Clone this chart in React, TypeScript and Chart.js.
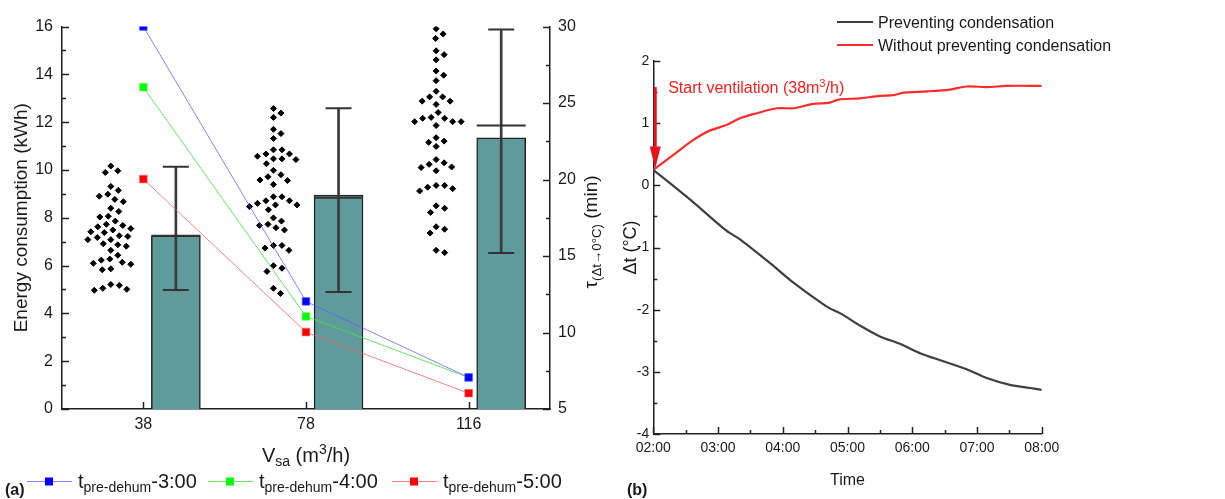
import React, { useEffect, useRef } from 'react';
import { Chart, registerables } from 'chart.js';

Chart.register(...registerables);

const FONT = '"Liberation Sans", Arial, sans-serif';
const INK = '#1a1a1a';

// ---------- Panel (a) data ----------
const flowRates = ['38', '78', '116'];
const energyPre3 = [16.0, 4.5, 1.32];
const energyPre4 = [13.46, 3.87, 1.32];
const energyPre5 = [9.62, 3.22, 0.66];
const tauBar = [16.32, 18.98, 22.73];
const tauLow = [12.78, 12.65, 15.2];
const tauHigh = [20.84, 24.66, 29.8];
const tauMid = [16.32, 18.8, 23.53];
const tau38 = [20.88, 20.57, 20.46, 19.55, 19.29, 19.04, 18.91, 18.7, 18.55, 18.12, 17.91, 17.55, 17.6, 17.28, 17.0, 17.07, 16.91, 16.79, 16.53, 16.58, 16.7, 16.32, 16.07, 16.21, 16.07, 16.28, 15.8, 15.73, 15.64, 15.37, 15.05, 14.8, 14.52, 14.73, 14.59, 14.46, 14.16, 14.1, 13.14, 12.82, 12.89, 13.08, 12.76];
const tau78 = [24.64, 24.34, 24.06, 23.28, 23.0, 22.68, 21.94, 21.67, 21.35, 21.35, 21.67, 21.94, 21.3, 21.52, 21.03, 20.31, 20.6, 20.18, 19.97, 19.68, 19.93, 18.87, 18.61, 18.34, 18.34, 18.61, 18.87, 18.23, 18.44, 18.02, 17.28, 17.49, 17.07, 17.0, 16.7, 16.85, 15.69, 15.52, 15.37, 15.69, 14.37, 13.99, 14.2, 12.89, 12.55];
const tau116 = [29.85, 29.51, 29.22, 28.41, 28.16, 27.82, 27.09, 26.82, 26.46, 25.76, 25.4, 25.12, 25.4, 25.12, 24.91, 24.38, 24.0, 23.78, 23.53, 23.78, 24.06, 23.78, 24.0, 22.73, 22.51, 22.16, 22.43, 20.99, 21.09, 21.3, 20.57, 20.82, 20.78, 19.61, 19.25, 19.5, 19.4, 19.61, 18.12, 17.85, 18.28, 16.75, 16.5, 16.91, 15.37, 15.22];
const tauSamples = [tau38, tau78, tau116];
const seriesNames = ['-3:00', '-4:00', '-5:00'];

// ---------- Panel (b) data ----------
const hoursPrevent = [2.0, 2.57, 3.13, 3.34, 3.86, 4.17, 4.68, 4.89, 5.2, 5.5, 5.81, 6.12, 6.48, 6.84, 7.15, 7.51, 7.82, 8.0];
const deltaPrevent = [0.25, -0.23, -0.73, -0.87, -1.3, -1.57, -1.95, -2.06, -2.26, -2.43, -2.55, -2.7, -2.83, -2.96, -3.1, -3.21, -3.26, -3.29];
const hoursWithout = [2.0, 2.31, 2.62, 2.87, 3.13, 3.34, 3.6, 3.91, 4.17, 4.47, 4.73, 4.86, 5.2, 5.5, 5.71, 5.86, 6.22, 6.58, 6.84, 7.15, 7.46, 8.0];
const deltaWithout = [0.25, 0.49, 0.73, 0.88, 0.97, 1.08, 1.16, 1.24, 1.24, 1.31, 1.33, 1.38, 1.4, 1.44, 1.45, 1.49, 1.51, 1.54, 1.59, 1.58, 1.6, 1.6];
const arrowHour = 2.03;
const arrowFrom = 1.58;
const arrowTo = 0.27;
const annotationHour = 2.23;
const annotationValue = 1.58;
const legendB = ['Preventing condensation', 'Without preventing condensation'];

type Seg = { t: string; k?: 'sub' | 'sup' };

function drawRich(
  ctx: CanvasRenderingContext2D,
  segs: Seg[],
  x: number,
  y: number,
  size: number,
  align: 'left' | 'center',
  color: string,
  rotate = false,
  bold = false,
  subScale = 0.7
) {
  ctx.save();
  ctx.translate(x, y);
  if (rotate) ctx.rotate(-Math.PI / 2);
  const fontFor = (k?: string) => `${bold ? 'bold ' : ''}${k ? size * subScale : size}px ${FONT}`;
  let w = 0;
  for (const s of segs) {
    ctx.font = fontFor(s.k);
    w += ctx.measureText(s.t).width;
  }
  let cx = align === 'center' ? -w / 2 : 0;
  ctx.fillStyle = color;
  ctx.textAlign = 'left';
  ctx.textBaseline = 'alphabetic';
  for (const s of segs) {
    ctx.font = fontFor(s.k);
    const dy = s.k === 'sub' ? size * 0.22 : s.k === 'sup' ? -size * 0.4 : 0;
    ctx.fillText(s.t, cx, dy);
    cx += ctx.measureText(s.t).width;
  }
  ctx.restore();
}

function swarmOffsets(values: number[], pxPerX: number, pxPerY: number, gap: number) {
  const placed: { x: number; y: number }[] = [];
  const out = new Array(values.length).fill(0);
  const order = values.map((_, i) => i).sort((a, b) => values[b] - values[a]);
  for (const i of order) {
    const y = values[i] * pxPerY;
    let chosen = 0;
    for (let k = 0; k < 400; k++) {
      const c = k === 0 ? 0 : (k % 2 ? 1 : -1) * Math.ceil(k / 2) * 0.5;
      if (placed.every((p) => (p.x - c) ** 2 + (p.y - y) ** 2 >= gap * gap)) {
        chosen = c;
        break;
      }
    }
    placed.push({ x: chosen, y });
    out[i] = chosen / pxPerX;
  }
  return out;
}

// inward tick marks (major + minor), drawn from the library's own tick values
function makeTickPlugin(axes: { id: string; side: 'left' | 'right' | 'bottom'; minor: boolean }[]) {
  return {
    id: 'innerTicks',
    afterDraw(chart: any) {
      const ctx: CanvasRenderingContext2D = chart.ctx;
      ctx.save();
      ctx.strokeStyle = '#222';
      ctx.lineWidth = 1.5;
      for (const a of axes) {
        const s = chart.scales[a.id];
        const vals: number[] = s.ticks.map((t: any) => t.value);
        const minors: number[] = [];
        if (a.minor) for (let i = 0; i < vals.length - 1; i++) minors.push((vals[i] + vals[i + 1]) / 2);
        const draw = (v: number, len: number) => {
          const p = Math.round(s.getPixelForValue(v)) + 0.5;
          ctx.beginPath();
          if (a.side === 'left') {
            ctx.moveTo(s.right, p);
            ctx.lineTo(s.right + len, p);
          } else if (a.side === 'right') {
            ctx.moveTo(s.left, p);
            ctx.lineTo(s.left - len, p);
          } else {
            ctx.moveTo(p, s.top);
            ctx.lineTo(p, s.top - len);
          }
          ctx.stroke();
        };
        vals.forEach((v) => draw(v, 7));
        minors.forEach((v) => draw(v, 4));
      }
      ctx.restore();
    },
  };
}

const lineColors = ['rgba(90,90,255,0.75)', 'rgba(70,230,70,0.85)', 'rgba(255,90,90,0.75)'];
const markerColors = ['#0000ff', '#00ff00', '#ff0000'];
const markerBorders = ['rgba(120,120,255,0.6)', 'rgba(120,255,120,0.6)', 'rgba(255,120,120,0.6)'];

function PanelA() {
  const ref = useRef<HTMLCanvasElement>(null);
  useEffect(() => {
    const canvas = ref.current!;
    const pxPerX = 488 / 3;
    const pxPerY = 393 / 25;
    const swarmPoints: { x: number; y: number }[] = [];
    tauSamples.forEach((vals, i) => {
      const off = swarmOffsets(vals, pxPerX, pxPerY, 8.5);
      vals.forEach((v, j) => swarmPoints.push({ x: i - 0.2 + off[j], y: v }));
    });
    const energySeries = [energyPre3, energyPre4, energyPre5];

    const titles = {
      id: 'titlesA',
      afterDraw(chart: any) {
        const ctx: CanvasRenderingContext2D = chart.ctx;
        const ca = chart.chartArea;
        drawRich(ctx, [{ t: 'Energy consumption (kWh)' }], 27, (ca.top + ca.bottom) / 2, 19, 'center', INK, true);
        drawRich(ctx, [{ t: 'τ' }, { t: '(Δt→0°C)', k: 'sub' }, { t: ' (min)' }], 597, 232, 19, 'center', INK, true);
        drawRich(ctx, [{ t: 'V' }, { t: 'sa', k: 'sub' }, { t: ' (m' }, { t: '3', k: 'sup' }, { t: '/h)' }], (ca.left + ca.right) / 2, 462, 20, 'center', INK);
        drawRich(ctx, [{ t: '(a)' }], 5, 495, 16, 'left', INK, false, true);
        const starts = [27, 208, 392];
        const ly = 481;
        starts.forEach((x0, i) => {
          ctx.save();
          ctx.strokeStyle = lineColors[i];
          ctx.lineWidth = 1;
          ctx.beginPath();
          ctx.moveTo(x0, ly + 0.5);
          ctx.lineTo(x0 + 45, ly + 0.5);
          ctx.stroke();
          ctx.fillStyle = markerColors[i];
          ctx.fillRect(x0 + 18, ly - 3.5, 8, 8);
          ctx.restore();
          drawRich(ctx, [{ t: 't' }, { t: 'pre-dehum', k: 'sub' }, { t: seriesNames[i] }], x0 + 51, 488, 20, 'left', INK);
        });
      },
    };

    const ds: any[] = [];
    energySeries.forEach((vals, i) => {
      ds.push({
        type: 'line',
        label: 'tpre-dehum' + seriesNames[i],
        data: vals.map((v, j) => ({ x: j, y: v })),
        yAxisID: 'y',
        borderColor: lineColors[i],
        borderWidth: 1,
        pointStyle: 'rect',
        pointRadius: 5.5,
        pointBackgroundColor: markerColors[i],
        pointBorderColor: markerBorders[i],
        pointBorderWidth: 1,
        tension: 0,
        order: 1 + i,
      });
    });
    ds.push({
      type: 'scatter',
      label: 'samples',
      data: swarmPoints,
      yAxisID: 'y2',
      pointStyle: 'rectRot',
      pointRadius: 3,
      pointBackgroundColor: '#000',
      pointBorderColor: '#000',
      pointBorderWidth: 1,
      order: 6,
    });
    ds.push({
      type: 'scatter',
      label: 'caps',
      data: [...tauLow, ...tauHigh].map((v, j) => ({ x: (j % 3) + 0.2, y: v })),
      yAxisID: 'y2',
      pointStyle: 'line',
      pointRadius: 13,
      pointBorderColor: '#333',
      pointBorderWidth: 2,
      order: 7,
    });
    ds.push({
      type: 'scatter',
      label: 'mid',
      data: tauMid.map((v, j) => ({ x: j + 0.2, y: v })),
      yAxisID: 'y2',
      pointStyle: 'line',
      pointRadius: 24.5,
      pointBorderColor: '#333',
      pointBorderWidth: 2,
      order: 7,
    });
    ds.push({
      type: 'bar',
      label: 'range',
      data: tauLow.map((v, j) => ({ x: j + 0.2, y: [v, tauHigh[j]] })),
      yAxisID: 'y2',
      backgroundColor: '#3a3a3a',
      borderWidth: 0,
      barThickness: 2,
      grouped: false,
      order: 8,
    });
    ds.push({
      type: 'bar',
      label: 'mean',
      data: tauBar.map((v, j) => ({ x: j + 0.2, y: v })),
      yAxisID: 'y2',
      backgroundColor: '#5f9b9b',
      borderColor: '#222',
      borderWidth: 1.5,
      borderSkipped: false,
      barThickness: 49,
      grouped: false,
      order: 10,
    });

    const chart = new Chart(canvas, {
      type: 'bar',
      data: { datasets: ds },
      options: {
        responsive: false,
        animation: false,
        events: [],
        layout: { padding: { top: 16, left: 0, right: 0, bottom: 0 } },
        plugins: { legend: { display: false }, tooltip: { enabled: false } },
        scales: {
          x: {
            type: 'linear',
            min: -0.5,
            max: 2.5,
            offset: false,
            afterBuildTicks: (s: any) => {
              s.ticks = flowRates.map((_, i) => ({ value: i }));
            },
            afterFit: (s: any) => {
              s.height = 90;
            },
            ticks: {
              callback: (v: any) => flowRates[v as number] ?? '',
              font: { family: FONT, size: 16 },
              color: INK,
              padding: 6,
              maxRotation: 0,
            },
            grid: { display: false, drawTicks: false, offset: false },
            border: { display: true, color: '#222', width: 1.5 },
          },
          y: {
            type: 'linear',
            position: 'left',
            min: 0,
            max: 16,
            ticks: { stepSize: 2, font: { family: FONT, size: 16 }, color: INK, padding: 9 },
            afterFit: (s: any) => {
              s.width = 62;
            },
            grid: { display: false, drawTicks: false },
            border: { display: true, color: '#222', width: 1.5 },
          },
          y2: {
            type: 'linear',
            position: 'right',
            min: 5,
            max: 30,
            ticks: { stepSize: 5, font: { family: FONT, size: 16 }, color: INK, padding: 8 },
            afterFit: (s: any) => {
              s.width = 62;
            },
            grid: { display: false, drawTicks: false },
            border: { display: true, color: '#222', width: 1.5 },
          },
        },
      },
      plugins: [
        makeTickPlugin([
          { id: 'y', side: 'left', minor: true },
          { id: 'y2', side: 'right', minor: true },
          { id: 'x', side: 'bottom', minor: false },
        ]),
        titles,
      ],
    } as any);
    return () => chart.destroy();
  }, []);
  return <canvas ref={ref} width={612} height={499} style={{ position: 'absolute', left: 0, top: 0 }} />;
}

function PanelB() {
  const ref = useRef<HTMLCanvasElement>(null);
  useEffect(() => {
    const canvas = ref.current!;
    const colors = ['#3f3f3f', '#ff2b2b'];
    const extras = {
      id: 'extrasB',
      afterDraw(chart: any) {
        const ctx: CanvasRenderingContext2D = chart.ctx;
        const ca = chart.chartArea;
        const xs = chart.scales.x;
        const ys = chart.scales.y;
        drawRich(ctx, [{ t: 'Δt (°C)' }], 24, (ca.top + ca.bottom) / 2, 18, 'center', INK, true);
        drawRich(ctx, [{ t: 'Time' }], (ca.left + ca.right) / 2, 485, 16, 'center', INK);
        drawRich(ctx, [{ t: '(b)' }], 15, 495, 16, 'left', INK, false, true);
        // legend
        legendB.forEach((name, i) => {
          const y = 22 + i * 23;
          ctx.save();
          ctx.strokeStyle = colors[i];
          ctx.lineWidth = 2;
          ctx.beginPath();
          ctx.moveTo(225, y);
          ctx.lineTo(261, y);
          ctx.stroke();
          ctx.restore();
          drawRich(ctx, [{ t: name }], 266, y + 6, 16, 'left', INK);
        });
        // arrow
        const ax = xs.getPixelForValue(arrowHour);
        const yTop = ys.getPixelForValue(arrowFrom);
        const yTip = ys.getPixelForValue(arrowTo);
        ctx.save();
        ctx.strokeStyle = '#e8141b';
        ctx.fillStyle = '#e8141b';
        ctx.lineWidth = 3;
        ctx.beginPath();
        ctx.moveTo(ax, yTop);
        ctx.lineTo(ax, yTip - 18);
        ctx.stroke();
        ctx.beginPath();
        ctx.moveTo(ax - 5.5, yTip - 22);
        ctx.lineTo(ax + 5.5, yTip - 22);
        ctx.lineTo(ax, yTip);
        ctx.closePath();
        ctx.fill();
        ctx.restore();
        drawRich(
          ctx,
          [{ t: 'Start ventilation (38m' }, { t: '3', k: 'sup' }, { t: '/h)' }],
          xs.getPixelForValue(annotationHour),
          ys.getPixelForValue(annotationValue) + 6,
          16,
          'left',
          '#ff1a1a'
        );
      },
    };
    const chart = new Chart(canvas, {
      type: 'line',
      data: {
        datasets: [
          {
            label: legendB[0],
            data: hoursPrevent.map((h, i) => ({ x: h, y: deltaPrevent[i] })),
            borderColor: colors[0],
            borderWidth: 2.2,
            pointRadius: 0,
            tension: 0.3,
          },
          {
            label: legendB[1],
            data: hoursWithout.map((h, i) => ({ x: h, y: deltaWithout[i] })),
            borderColor: colors[1],
            borderWidth: 2.2,
            pointRadius: 0,
            tension: 0.3,
          },
        ],
      },
      options: {
        responsive: false,
        animation: false,
        events: [],
        layout: { padding: { top: 61, left: 0, right: 183.3, bottom: 0 } },
        plugins: { legend: { display: false }, tooltip: { enabled: false } },
        scales: {
          x: {
            type: 'linear',
            min: 2,
            max: 8,
            ticks: {
              stepSize: 1,
              callback: (v: any) => `${v < 10 ? '0' : ''}${v}:00`,
              font: { family: FONT, size: 14 },
              color: INK,
              padding: 6,
              maxRotation: 0,
            },
            afterFit: (s: any) => {
              s.height = 65;
            },
            grid: { display: false, drawTicks: false },
            border: { display: true, color: '#222', width: 1.5 },
          },
          y: {
            type: 'linear',
            min: -4,
            max: 2,
            ticks: { stepSize: 1, font: { family: FONT, size: 14 }, color: INK, padding: 4 },
            afterFit: (s: any) => {
              s.width = 41.3;
            },
            grid: { display: false, drawTicks: false },
            border: { display: true, color: '#222', width: 1.5 },
          },
        },
      },
      plugins: [
        makeTickPlugin([
          { id: 'y', side: 'left', minor: true },
          { id: 'x', side: 'bottom', minor: true },
        ]),
        extras,
      ],
    } as any);
    return () => chart.destroy();
  }, []);
  return <canvas ref={ref} width={613} height={499} style={{ position: 'absolute', left: 612, top: 0 }} />;
}

export default function App() {
  return (
    <div style={{ position: 'fixed', left: 0, top: 0, width: 1225, height: 499, background: '#fff', overflow: 'hidden' }}>
      <PanelA />
      <PanelB />
    </div>
  );
}
